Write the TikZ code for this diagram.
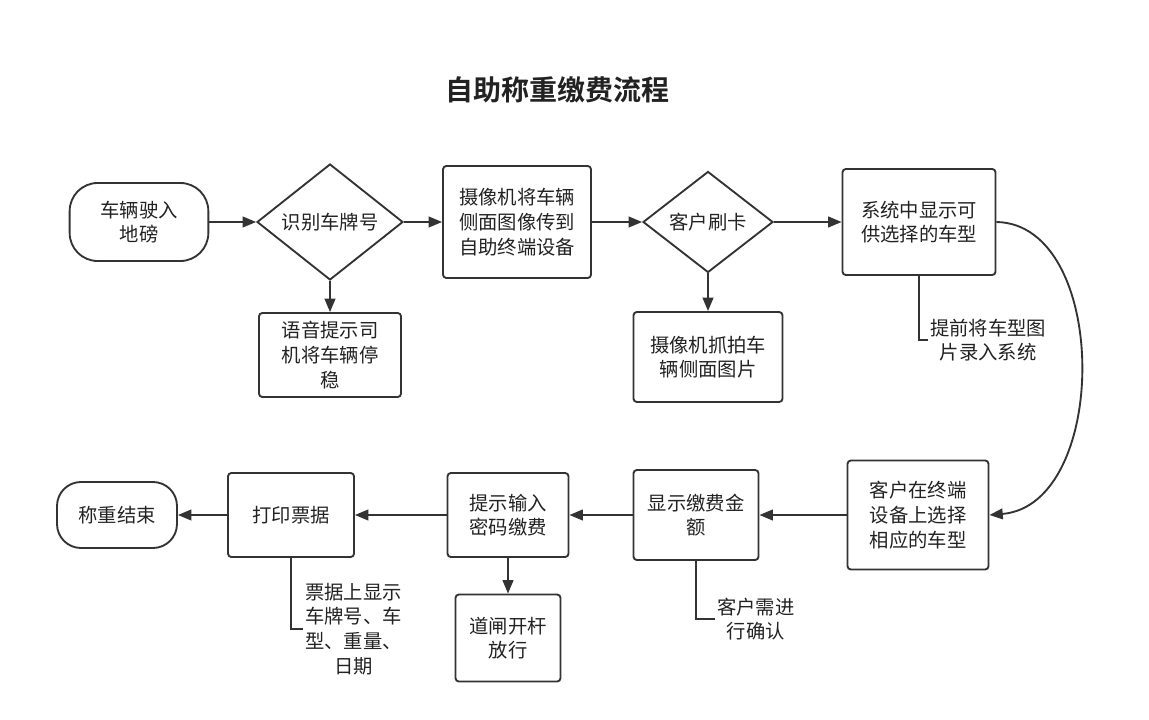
\documentclass[tikz,border=0pt]{standalone}
\usepackage{fontspec}
\setmainfont{Noto Sans CJK SC}[BoldFont={Noto Sans CJK SC Bold}]
\usetikzlibrary{shapes.geometric,arrows.meta}
\definecolor{ln}{HTML}{333333}
\definecolor{tx}{HTML}{222222}
\tikzset{
  base/.style={draw=ln, line width=1.4pt, align=center, inner sep=0pt, text=tx,
               font=\fontsize{14.5pt}{18.5pt}\selectfont},
  box/.style={base, rounded corners=2.5pt},
  term/.style={base, rounded corners=21pt},
  dia/.style={base, shape=diamond, label={[text=tx, font=\fontsize{14.5pt}{18.5pt}\selectfont]center:#1}},
  arr/.style={draw=ln, line width=1.4pt, -{Triangle[length=10pt,width=8pt]}},
  ann/.style={draw=ln, line width=1.4pt},
  note/.style={align=center, text=tx, inner sep=1.5pt, anchor=west,
               font=\fontsize{14.5pt}{18.5pt}\selectfont}
}
\begin{document}
\begin{tikzpicture}[x=0.75pt,y=-0.75pt]
\useasboundingbox (0,0) rectangle (1149,720);
\node[text=tx, font=\fontsize{21pt}{25pt}\selectfont\bfseries] (title) at (557,90) {自助称重缴费流程};

% row 1
\node[term, minimum width=104pt, minimum height=58.5pt] (start) at (139,222) {车辆驶入\\地磅};
\node[dia={识别车牌号}, minimum width=109.5pt, minimum height=87pt] (d1) at (330,222) {};
\node[box, minimum width=106.5pt, minimum height=63pt] (b2) at (330,355) {语音提示司\\机将车辆停\\稳};
\node[box, minimum width=111pt, minimum height=84pt] (b3) at (517,222) {摄像机将车辆\\侧面图像传到\\自助终端设备};
\node[dia={客户刷卡}, minimum width=97.5pt, minimum height=75.75pt] (d2) at (708,222) {};
\node[box, minimum width=111.75pt, minimum height=67.5pt] (b4) at (708,357) {摄像机抓拍车\\辆侧面图片};
\node[box, minimum width=114.75pt, minimum height=79.5pt] (b5) at (919,222) {系统中显示可\\供选择的车型};

% row 2
\node[box, minimum width=105.75pt, minimum height=81.75pt] (b6) at (918,515) {客户在终端\\设备上选择\\相应的车型};
\node[box, minimum width=93.75pt, minimum height=67.5pt] (b7) at (696,515) {显示缴费金\\额};
\node[box, minimum width=90.75pt, minimum height=63pt] (b8) at (508,515) {提示输入\\密码缴费};
\node[box, minimum width=78.75pt, minimum height=65.25pt] (b9) at (508,638) {道闸开杆\\放行};
\node[box, minimum width=94.5pt, minimum height=63pt] (b10) at (291,515) {打印票据};
\node[term, minimum width=90pt, minimum height=49.5pt, rounded corners=18pt] (end) at (117,515) {称重结束};

% connectors
\draw[arr] (start) -- (d1);
\draw[arr] (d1) -- (b2);
\draw[arr] (d1) -- (b3);
\draw[arr] (b3) -- (d2);
\draw[arr] (d2) -- (b4);
\draw[arr] (d2) -- (b5);
\draw[arr] (b5.east) .. controls (1110,224) and (1110,505) .. (b6.east);
\draw[arr] (b6) -- (b7);
\draw[arr] (b7) -- (b8);
\draw[arr] (b8) -- (b9);
\draw[arr] (b8) -- (b10);
\draw[arr] (b10) -- (end);

% annotations
\coordinate (c1) at (928,340);
\draw[ann] (b5.south) |- (c1);
\node[note] (t1) at (c1) {提前将车型图\\片录入系统};
\coordinate (c2) at (715,619);
\draw[ann] (b7.south) |- (c2);
\node[note] (t2) at (c2) {客户需进\\行确认};
\coordinate (c3) at (303,629);
\draw[ann] (b10.south) |- (c3);
\node[note, font=\fontsize{14.5pt}{18.5pt}\selectfont] (t3) at (c3) {票据上显示\\车牌号、车\\型、重量、\\日期};
\end{tikzpicture}
\end{document}
